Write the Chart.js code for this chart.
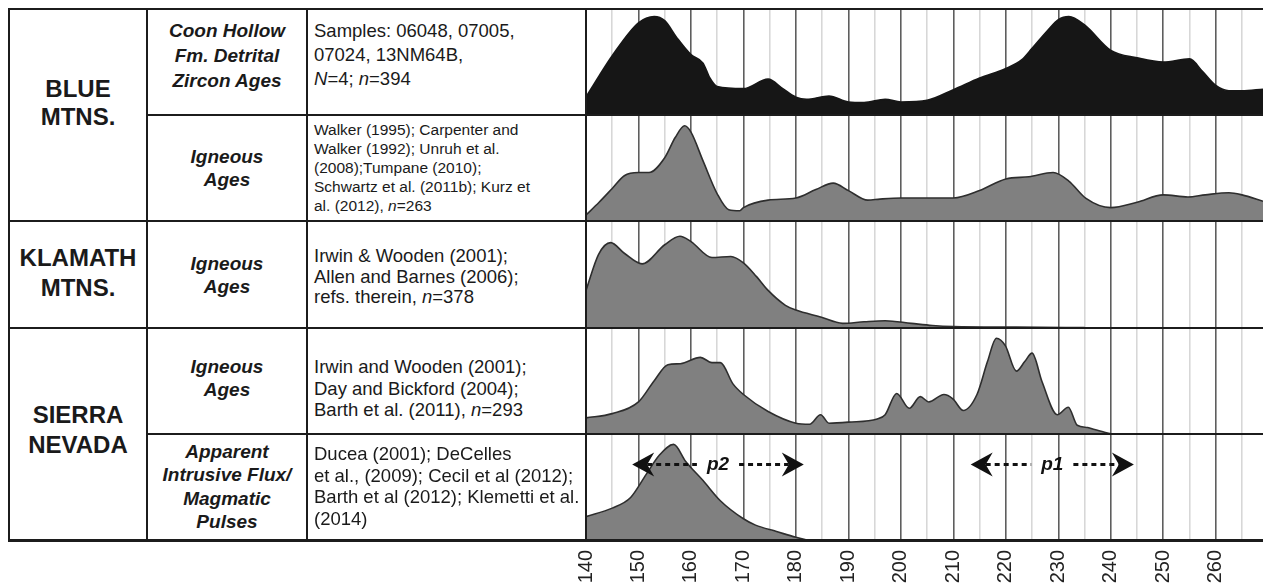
<!DOCTYPE html>
<html>
<head>
<meta charset="utf-8" />
<title>Age distributions - Blue, Klamath and Sierra Nevada</title>
<script src="https://cdn.jsdelivr.net/npm/chart.js@4.4.1/dist/chart.umd.min.js"></script>
<style>
    html, body {
        margin: 0;
        padding: 0;
        width: 1263px;
        height: 588px;
        overflow: hidden;
        background: #fff;
    }
    body {
        position: relative;
        font-family: "Liberation Sans", Arial, sans-serif;
        color: #1a1a1a;
    }
    #chartBox { position: absolute; left: 566px; top: 0; width: 697px; height: 588px; }
    .ln { position: absolute; background: #1c1c1c; z-index: 2; }
    .txt { position: absolute; white-space: nowrap; }
    .region { left: 9px; width: 138px; text-align: center; font-weight: bold; font-size: 24px; line-height: 30px; }
    .kind { left: 147px; width: 160px; text-align: center; font-weight: bold; font-style: italic; font-size: 19px; line-height: 23px; }
    .refs { left: 314px; font-size: 18.5px; line-height: 22px; }
</style>
</head>
<body>
    <div id="chartBox">
        <canvas id="ageChart" width="697" height="588"></canvas>
    </div>

    <!-- table frame -->
    <div class="ln" style="left:8px;top:8px;width:1255px;height:2px"></div>
    <div class="ln" style="left:8px;top:539px;width:1255px;height:2.5px"></div>
    <div class="ln" style="left:8px;top:8px;width:2px;height:533px"></div>
    <div class="ln" style="left:146px;top:8px;width:2px;height:533px"></div>
    <div class="ln" style="left:306px;top:8px;width:2px;height:533px"></div>
    <div class="ln" style="left:585px;top:8px;width:2px;height:533px"></div>
    <div class="ln" style="left:147px;top:114.2px;width:1116px;height:2px"></div>
    <div class="ln" style="left:9px;top:220.4px;width:1254px;height:2px"></div>
    <div class="ln" style="left:9px;top:326.6px;width:1254px;height:2px"></div>
    <div class="ln" style="left:147px;top:432.8px;width:1116px;height:2px"></div>

    <!-- regions -->
    <div class="txt region" style="top:75px;line-height:28px">BLUE<br>MTNS.</div>
    <div class="txt region" style="top:243px">KLAMATH<br>MTNS.</div>
    <div class="txt region" style="top:400px">SIERRA<br>NEVADA</div>

    <!-- data kinds -->
    <div class="txt kind" style="top:18px;line-height:25px">Coon Hollow<br>Fm. Detrital<br>Zircon Ages</div>
    <div class="txt kind" style="top:145px">Igneous<br>Ages</div>
    <div class="txt kind" style="top:252px">Igneous<br>Ages</div>
    <div class="txt kind" style="top:355px">Igneous<br>Ages</div>
    <div class="txt kind" style="top:440px;line-height:23.3px">Apparent<br>Intrusive Flux/<br>Magmatic<br>Pulses</div>

    <!-- sources -->
    <div class="txt refs" style="top:19px;line-height:24px">Samples: 06048, 07005,<br>07024, 13NM64B,<br><i>N</i>=4; <i>n</i>=394</div>
    <div class="txt refs" style="top:120px;font-size:15.5px;line-height:19.1px">Walker (1995); Carpenter and<br>Walker (1992); Unruh et al.<br>(2008);Tumpane (2010);<br>Schwartz et al. (2011b); Kurz et<br>al. (2012), <i>n</i>=263</div>
    <div class="txt refs" style="top:246px;line-height:20.5px">Irwin &amp; Wooden (2001);<br>Allen and Barnes (2006);<br>refs. therein, <i>n</i>=378</div>
    <div class="txt refs" style="top:356px;line-height:21.7px">Irwin and Wooden (2001);<br>Day and Bickford (2004);<br>Barth et al. (2011), <i>n</i>=293</div>
    <div class="txt refs" style="top:443px;line-height:21.7px">Ducea (2001); DeCelles<br>et al., (2009); Cecil et al (2012);<br>Barth et al (2012); Klemetti et al.<br>(2014)</div>

    <script>
        // age axis (Ma)
        const ageMin = 140;
        const ageMax = 269;
        const ageStep = 5;

        // Blue Mtns. - Coon Hollow Fm. detrital zircon ages (relative probability)
        const coonAge = [140, 142.5, 145, 150, 153, 155, 157.3, 160, 162.3, 163.6, 165, 170, 174.7, 177.5, 180, 182, 186.3, 190, 193, 197, 200, 205, 210, 215, 220, 223, 225, 228, 230, 232, 235, 240, 245, 250, 255, 257.5, 260, 262.5, 265, 269];
        const coonDen = [0.17, 0.37, 0.56, 0.87, 0.93, 0.89, 0.73, 0.57, 0.49, 0.35, 0.27, 0.25, 0.34, 0.25, 0.17, 0.15, 0.18, 0.125, 0.12, 0.15, 0.125, 0.14, 0.24, 0.35, 0.44, 0.52, 0.63, 0.80, 0.90, 0.93, 0.85, 0.61, 0.54, 0.50, 0.53, 0.41, 0.28, 0.23, 0.23, 0.245];

        // Blue Mtns. - igneous ages
        const blueAge = [140, 142.5, 145, 147.3, 150, 152, 155, 157, 158.8, 160, 162.3, 165, 167.2, 169.3, 170, 174.7, 180, 183.8, 187.1, 190, 193.7, 196, 200, 205, 210, 215, 220, 224.4, 229, 232, 235.2, 240, 245, 250, 254.7, 258, 262.5, 265, 269];
        const blueDen = [0.06, 0.18, 0.31, 0.43, 0.46, 0.46, 0.60, 0.79, 0.90, 0.84, 0.57, 0.26, 0.11, 0.10, 0.13, 0.20, 0.22, 0.30, 0.36, 0.29, 0.20, 0.21, 0.22, 0.22, 0.22, 0.29, 0.40, 0.42, 0.46, 0.38, 0.22, 0.13, 0.18, 0.25, 0.23, 0.25, 0.27, 0.25, 0.19];

        // Klamath Mtns. - igneous ages
        const klamAge = [140, 142.4, 144.7, 147.3, 150.7, 155, 157.9, 160, 164, 167.6, 170, 172.5, 174.7, 178, 180, 184.7, 188.9, 193, 197, 202, 206, 210, 222, 235];
        const klamDen = [0.35, 0.69, 0.80, 0.70, 0.60, 0.78, 0.86, 0.81, 0.66, 0.67, 0.61, 0.48, 0.35, 0.21, 0.165, 0.10, 0.04, 0.055, 0.065, 0.04, 0.02, 0.01, 0.005, 0];

        // Sierra Nevada - igneous ages
        const sierAge = [140, 145, 150, 153, 155.6, 158, 161.8, 164, 165.6, 168, 170, 174.7, 180, 182.6, 184.7, 186.3, 190, 195.5, 197, 199.2, 201.6, 203.7, 205.3, 208.2, 209.9, 211.9, 214.5, 216.5, 218.2, 219.9, 222, 223.6, 225, 226.9, 229.8, 231.9, 233.6, 235.6, 236.9, 240];
        const sierDen = [0.15, 0.19, 0.30, 0.50, 0.65, 0.66, 0.72, 0.67, 0.67, 0.47, 0.37, 0.21, 0.10, 0.09, 0.18, 0.10, 0.11, 0.14, 0.18, 0.38, 0.24, 0.35, 0.30, 0.37, 0.33, 0.22, 0.37, 0.68, 0.90, 0.83, 0.59, 0.68, 0.76, 0.49, 0.18, 0.25, 0.08, 0.06, 0.04, 0];

        // Sierra Nevada - apparent intrusive flux
        const fluxAge = [140, 145, 148.5, 151.5, 154, 156.7, 159, 162.3, 165.6, 170, 172.3, 176.3, 180, 182];
        const fluxDen = [0.22, 0.30, 0.40, 0.62, 0.80, 0.90, 0.74, 0.56, 0.37, 0.20, 0.14, 0.08, 0.025, 0];

        // magmatic pulses (arrows in the flux row)
        const pulseNames = ['p2', 'p1'];
        const pulseFrom = [148.8, 213.3];
        const pulseTo = [181.5, 244.4];
        const pulseLevel = 0.71;

        const rows = [
            { id: 'r1', age: coonAge, den: coonDen, fill: '#161616', line: '#161616' },
            { id: 'r2', age: blueAge, den: blueDen, fill: '#808080', line: '#2e2e2e' },
            { id: 'r3', age: klamAge, den: klamDen, fill: '#808080', line: '#2e2e2e' },
            { id: 'r4', age: sierAge, den: sierDen, fill: '#808080', line: '#2e2e2e' },
            { id: 'r5', age: fluxAge, den: fluxDen, fill: '#808080', line: '#2e2e2e' }
        ];

        Chart.defaults.font.family = '"Liberation Sans", Arial, sans-serif';

        function arrowHead(ctx, x, y, dir)
        {
            ctx.beginPath();
            ctx.moveTo(x, y);
            ctx.lineTo(x + dir * 22, y - 12);
            ctx.lineTo(x + dir * 15, y);
            ctx.lineTo(x + dir * 22, y + 12);
            ctx.closePath();
            ctx.fill();
        }

        const pulseArrows = {
            id: 'pulseArrows',
            afterDraw(chart) {
                const ctx = chart.ctx;
                const xs = chart.scales.x;
                const ys = chart.scales.r5;
                const y = ys.getPixelForValue(pulseLevel);
                ctx.save();
                ctx.font = 'italic bold 19px "Liberation Sans", Arial, sans-serif';
                ctx.fillStyle = '#111';
                ctx.strokeStyle = '#111';
                pulseNames.forEach((name, i) => {
                    const x0 = xs.getPixelForValue(pulseFrom[i]);
                    const x1 = xs.getPixelForValue(pulseTo[i]);
                    const xm = (x0 + x1) / 2;
                    const tw = ctx.measureText(name).width;
                    ctx.lineWidth = 3;
                    ctx.setLineDash([5, 4]);
                    ctx.beginPath();
                    ctx.moveTo(x0 + 15, y);
                    ctx.lineTo(xm - tw / 2 - 10, y);
                    ctx.moveTo(xm + tw / 2 + 10, y);
                    ctx.lineTo(x1 - 15, y);
                    ctx.stroke();
                    ctx.setLineDash([]);
                    arrowHead(ctx, x0, y, 1);
                    arrowHead(ctx, x1, y, -1);
                    ctx.textAlign = 'center';
                    ctx.textBaseline = 'middle';
                    ctx.fillText(name, xm, y);
                });
                ctx.restore();
            }
        };

        const yScales = {};
        rows.forEach((r, i) => {
            yScales[r.id] = {
                type: 'linear',
                display: false,
                position: 'left',
                stack: 'rows',
                stackWeight: 1,
                weight: rows.length - i,
                min: 0,
                max: 1
            };
        });

        const config = {
            type: 'line',
            data: {
                datasets: rows.map(r => ({
                    data: r.age.map((a, i) => ({ x: a, y: r.den[i] })),
                    yAxisID: r.id,
                    xAxisID: 'x',
                    fill: 'origin',
                    backgroundColor: r.fill,
                    borderColor: r.line,
                    borderWidth: 1.6,
                    pointRadius: 0,
                    tension: 0.35,
                    cubicInterpolationMode: 'monotone'
                }))
            },
            options: {
                responsive: false,
                maintainAspectRatio: false,
                animation: false,
                layout: { padding: { left: 20, top: 9, right: 0, bottom: 0 } },
                scales: Object.assign({
                    x: {
                        type: 'linear',
                        position: 'bottom',
                        min: ageMin,
                        max: ageMax,
                        z: 1,
                        border: { display: false },
                        grid: {
                            drawTicks: false,
                            lineWidth: 1.6,
                            color: c => (c.tick && c.tick.value % 10 === 0) ? '#5e5e5e' : 'rgba(205,205,205,0.8)'
                        },
                        ticks: {
                            stepSize: ageStep,
                            includeBounds: false,
                            autoSkip: false,
                            minRotation: 90,
                            maxRotation: 90,
                            padding: 10,
                            color: '#222',
                            font: { size: 20 },
                            callback: v => v % 10 === 0 ? String(v) : ''
                        },
                        afterFit: s => {
                            s.height = 48;
                            s.paddingLeft = 0;
                            s.paddingRight = 0;
                        }
                    }
                }, yScales),
                plugins: {
                    legend: { display: false },
                    tooltip: { enabled: false }
                }
            },
            plugins: [pulseArrows]
        };

        new Chart(document.getElementById('ageChart').getContext('2d'), config);
    </script>
</body>
</html>
